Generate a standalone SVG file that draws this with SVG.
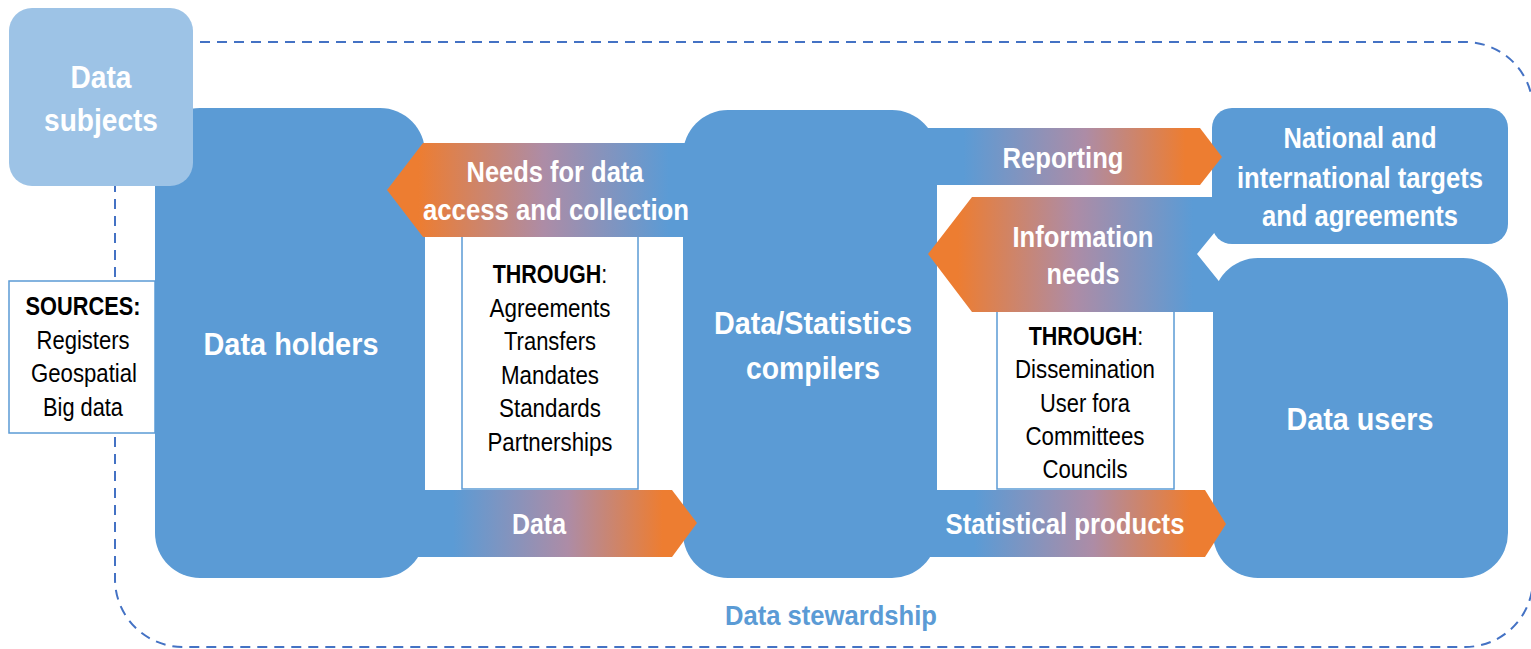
<svg xmlns="http://www.w3.org/2000/svg" width="1531" height="649" viewBox="0 0 1531 649">
<style>
.box{fill:#5B9BD5}
.lt{fill:#9DC3E6}
.wb{fill:#FFFFFF;stroke:#5B9BD5;stroke-width:1.5}
.wt{font-family:"Liberation Sans Narrow","Liberation Sans",Arial,sans-serif;font-weight:bold;fill:#FFFFFF;text-anchor:middle}
.bt{font-family:"Liberation Sans Narrow","Liberation Sans",Arial,sans-serif;fill:#000000;text-anchor:middle;font-size:25px}
.b{font-weight:bold}
.big{font-size:31px}
.mid{font-size:29px}
</style>
<defs>
<linearGradient id="gL" x1="0" y1="0" x2="1" y2="0">
<stop offset="0" stop-color="#ED7D31"/><stop offset="0.1" stop-color="#ED7D31"/><stop offset="0.5" stop-color="#AD8CA6"/><stop offset="0.9" stop-color="#5B9BD5"/><stop offset="1" stop-color="#5B9BD5"/>
</linearGradient>
<linearGradient id="gR" x1="0" y1="0" x2="1" y2="0">
<stop offset="0" stop-color="#5B9BD5"/><stop offset="0.15" stop-color="#5B9BD5"/><stop offset="0.55" stop-color="#AD8CA6"/><stop offset="0.88" stop-color="#ED7D31"/><stop offset="1" stop-color="#ED7D31"/>
</linearGradient>
</defs>
<rect width="1531" height="649" fill="#FFFFFF"/>
<g id="stewardship">
<rect x="115" y="42" width="1418" height="605" rx="68" ry="68" fill="none" stroke="#4472C4" stroke-width="2" stroke-dasharray="10,7"/>
<text x="831" y="625" style="font-family:'Liberation Sans Narrow','Liberation Sans',Arial,sans-serif;font-weight:bold;font-size:28px;fill:#5B9BD5;text-anchor:middle" textLength="212" lengthAdjust="spacingAndGlyphs">Data stewardship</text>
</g>
<g id="data-holders">
<rect class="box" x="155" y="108" width="270" height="470" rx="45" ry="45"/>
<text class="wt big" x="291" y="355" textLength="175" lengthAdjust="spacingAndGlyphs">Data holders</text>
</g>
<g id="data-subjects">
<rect class="lt" x="9" y="8" width="184" height="178" rx="23" ry="23"/>
<text class="wt big" x="101" y="88" textLength="61" lengthAdjust="spacingAndGlyphs">Data</text>
<text class="wt big" x="101" y="131" textLength="114" lengthAdjust="spacingAndGlyphs">subjects</text>
</g>
<g id="sources">
<rect class="wb" x="9" y="281" width="146" height="152"/>
<text class="bt b" x="83" y="315" textLength="115" lengthAdjust="spacingAndGlyphs">SOURCES:</text>
<text class="bt" x="83" y="349" textLength="93" lengthAdjust="spacingAndGlyphs">Registers</text>
<text class="bt" x="84" y="382" textLength="106" lengthAdjust="spacingAndGlyphs">Geospatial</text>
<text class="bt" x="83" y="416" textLength="80" lengthAdjust="spacingAndGlyphs">Big data</text>
</g>
<g id="through-access">
<rect class="wb" x="462" y="230" width="176" height="259"/>
<text class="bt" transform="translate(550,283) scale(0.86,1)"><tspan class="b">THROUGH</tspan>:</text>
<text class="bt" x="550" y="317" textLength="121" lengthAdjust="spacingAndGlyphs">Agreements</text>
<text class="bt" x="550" y="350" textLength="92" lengthAdjust="spacingAndGlyphs">Transfers</text>
<text class="bt" x="550" y="384" textLength="98" lengthAdjust="spacingAndGlyphs">Mandates</text>
<text class="bt" x="550" y="417" textLength="102" lengthAdjust="spacingAndGlyphs">Standards</text>
<text class="bt" x="550" y="451" textLength="125" lengthAdjust="spacingAndGlyphs">Partnerships</text>
</g>
<g id="through-dissemination">
<rect class="wb" x="997" y="305" width="177" height="184"/>
<text class="bt" transform="translate(1086,345) scale(0.86,1)"><tspan class="b">THROUGH</tspan>:</text>
<text class="bt" x="1085" y="378" textLength="140" lengthAdjust="spacingAndGlyphs">Dissemination</text>
<text class="bt" x="1085" y="412" textLength="90" lengthAdjust="spacingAndGlyphs">User fora</text>
<text class="bt" x="1085" y="445" textLength="119" lengthAdjust="spacingAndGlyphs">Committees</text>
<text class="bt" x="1085" y="478" textLength="85" lengthAdjust="spacingAndGlyphs">Councils</text>
</g>
<g id="compilers">
<rect class="box" x="683" y="110" width="254" height="468" rx="45" ry="45"/>
<text class="wt big" x="813" y="334" textLength="198" lengthAdjust="spacingAndGlyphs">Data/Statistics</text>
<text class="wt big" x="813" y="379" textLength="134" lengthAdjust="spacingAndGlyphs">compilers</text>
</g>
<g id="targets">
<rect class="box" x="1212" y="108" width="296" height="136" rx="20" ry="20"/>
<text class="wt mid" x="1360" y="148" textLength="153" lengthAdjust="spacingAndGlyphs">National and</text>
<text class="wt mid" x="1360" y="188" textLength="246" lengthAdjust="spacingAndGlyphs">international targets</text>
<text class="wt mid" x="1360" y="226" textLength="196" lengthAdjust="spacingAndGlyphs">and agreements</text>
</g>
<g id="data-users">
<rect class="box" x="1213" y="258" width="295" height="320" rx="45" ry="45"/>
<text class="wt big" x="1360" y="430" textLength="147" lengthAdjust="spacingAndGlyphs">Data users</text>
</g>
<g id="connectors">
<polygon points="387,190 423,143 700,143 700,237 423,237" fill="url(#gL)"/>
<text class="wt mid" x="555" y="182" textLength="177" lengthAdjust="spacingAndGlyphs">Needs for data</text>
<text class="wt mid" x="556" y="220" textLength="266" lengthAdjust="spacingAndGlyphs">access and collection</text>
<polygon points="410,490 672,490 697,523 672,557 410,557" fill="url(#gR)"/>
<text class="wt mid" x="539" y="534" textLength="54" lengthAdjust="spacingAndGlyphs">Data</text>
<polygon points="918,128 1200,128 1222,157 1200,185 918,185" fill="url(#gR)"/>
<text class="wt mid" x="1063" y="168" textLength="121" lengthAdjust="spacingAndGlyphs">Reporting</text>
<polygon points="928,254 972,197 1215,197 1215,232 1197,254 1222,285 1222,312 972,312" fill="url(#gL)"/>
<text class="wt mid" x="1083" y="247" textLength="141" lengthAdjust="spacingAndGlyphs">Information</text>
<text class="wt mid" x="1083" y="284" textLength="73" lengthAdjust="spacingAndGlyphs">needs</text>
<polygon points="930,490 1205,490 1226,524 1205,557 930,557" fill="url(#gR)"/>
<text class="wt mid" x="1065" y="534" textLength="239" lengthAdjust="spacingAndGlyphs">Statistical products</text>
</g>
</svg>
